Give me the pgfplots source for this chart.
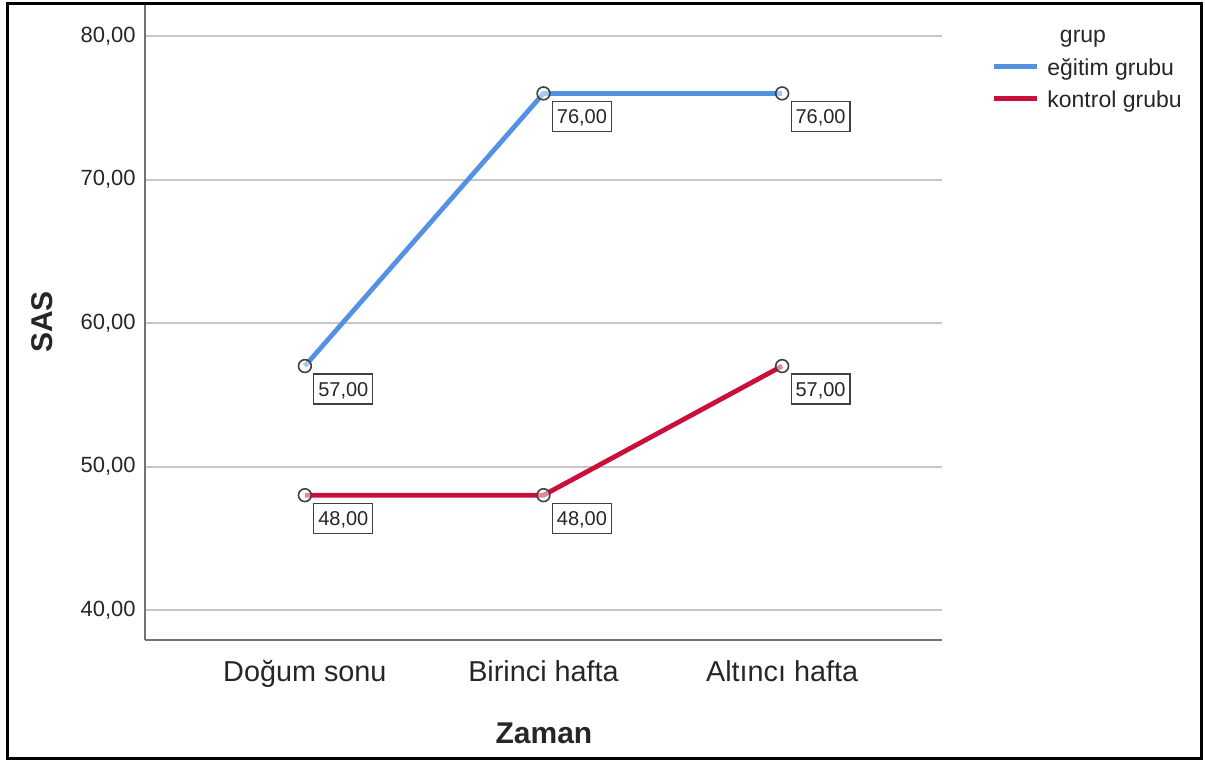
\documentclass[border=0pt]{standalone}
\usepackage{fontspec}
\setmainfont{Liberation Sans}
\usepackage{pgfplots}
\pgfplotsset{compat=1.18}
\definecolor{egitim}{RGB}{84,145,226}
\definecolor{kontrol}{RGB}{204,14,58}
\definecolor{txt}{RGB}{38,38,38}

\begin{document}
\begin{tikzpicture}
\begin{axis}[
    scale only axis, width=398.5pt, height=318pt,
    xmin=-0.67, xmax=2.67, ymin=37.91, ymax=82.23,
    axis x line=bottom, axis y line=left,
    axis line style={-, draw=black!55, line width=1pt},
    xtick={0,1,2},
    xticklabels={Doğum sonu, Birinci hafta, Altıncı hafta},
    ytick={40,50,60,70,80},
    major tick length=0pt,
    ymajorgrids, grid style={draw=black!22, line width=1pt},
    /pgf/number format/fixed,
    /pgf/number format/fixed zerofill,
    /pgf/number format/precision=2,
    /pgf/number format/use comma,
    /pgf/number format/assume math mode=true,
    xticklabel style={font=\fontsize{14.4}{16}\selectfont, text=txt, inner sep=0pt, yshift=-10pt},
    yticklabel style={font=\fontsize{11}{13}\selectfont, text=txt, inner sep=0pt, xshift=-4.5pt},
    xlabel={Zaman},
    xlabel style={font=\bfseries\fontsize{15}{17}\selectfont, text=txt, at={(axis description cs:0.5006,-0.146)}, anchor=center},
    ylabel={SAS},
    ylabel style={font=\bfseries\fontsize{15}{17}\selectfont, text=txt, at={(axis description cs:-0.1292,0.5)}, anchor=center},
    nodes near coords, point meta=y,
    every node near coord/.append style={anchor=north west, draw=black!75, line width=0.6pt, fill=white,
        opacity=1, fill opacity=1, text opacity=1, draw opacity=1,
        font=\fontsize{10}{12}\selectfont, text=txt, inner xsep=2.2pt, inner ysep=3.9pt,
        text height=7.2pt, text depth=0pt, outer sep=0pt, xshift=4.5pt, yshift=-4pt},
    legend style={at={(axis description cs:1.0615,0.9155)}, anchor=north west, draw=none, fill=none,
        inner sep=0pt, font=\fontsize{11.5}{13}\selectfont, text=txt,
        nodes={inner sep=0pt, text height=8.5pt, text depth=2.5pt},
        /tikz/every odd column/.style={column sep=4pt}, row sep=5.25pt},
    legend cell align=left,
    legend image code/.code={\draw[#1, mark=none, line width=2.5pt] (0pt,1.5pt) -- (21.5pt,1.5pt);},
    clip=false,
]
\addplot[color=egitim, line width=2.4pt, mark=*, mark size=3.2pt,
    mark options={draw=black!75, fill=white, fill opacity=0.5, line width=0.8pt}]
    coordinates {(0,57) (1,76) (2,76)};
\addlegendentry{eğitim grubu}
\addplot[color=kontrol, line width=2.4pt, mark=*, mark size=3.2pt,
    mark options={draw=black!75, fill=white, fill opacity=0.5, line width=0.8pt}]
    coordinates {(0,48) (1,48) (2,57)};
\addlegendentry{kontrol grubu}

% legend title
\node[anchor=base, font=\fontsize{11.5}{13}\selectfont, text=txt] at (rel axis cs:1.1769,0.9387) {grup};
% outer frame and page size
\path (rel axis cs:-0.18193,-0.18868) rectangle (rel axis cs:1.32999,1.00629);
\draw[black, line width=1.5pt] (rel axis cs:-0.17252,-0.18632) rectangle (rel axis cs:1.32497,1.00157);
\end{axis}
\end{tikzpicture}
\end{document}
